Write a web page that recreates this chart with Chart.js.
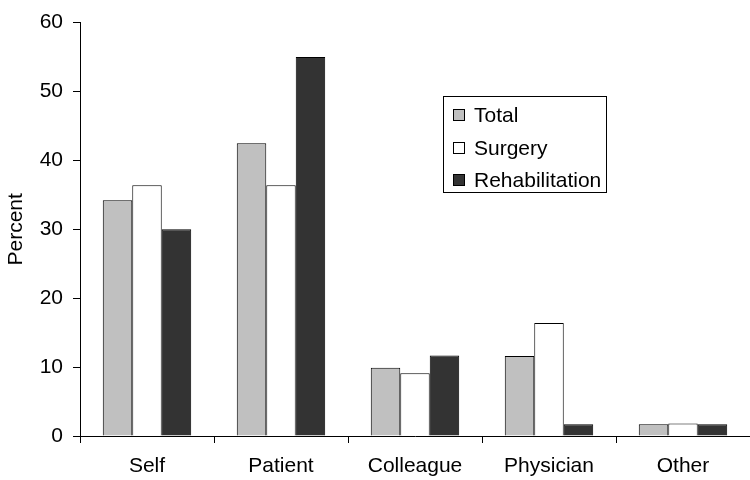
<!DOCTYPE html>
<html>
<head>
<meta charset="utf-8">
<script src="https://cdn.jsdelivr.net/npm/chart.js@4/dist/chart.umd.min.js"></script>
<style>
  html, body { margin: 0; padding: 0; background: #fff; overflow: hidden; }
  #wrap { width: 750px; height: 480px; }
</style>
</head>
<body>
<div id="wrap"><canvas id="sourceChart"></canvas></div>
<script>
// categories and values (percent)
var categories = ["Self", "Patient", "Colleague", "Physician", "Other"];
var total = [34.2, 42.5, 9.9, 11.6, 1.7];
var surgery = [36.4, 36.4, 9.1, 16.4, 1.8];
var rehabilitation = [30.0, 55.0, 11.7, 1.7, 1.7];
var yTicks = [0, 10, 20, 30, 40, 50, 60];

var font = {family: "'Liberation Sans', Arial, sans-serif", size: 21};

// legend drawn as a box inside the plot, like the original
var boxLegend = {
    id: 'boxLegend',
    afterDraw: function (chart) {
        var ctx = chart.ctx;
        ctx.save();
        ctx.strokeStyle = '#000';
        ctx.lineWidth = 1;
        ctx.strokeRect(443.5, 96.5, 163, 96);
        ctx.font = font.size + 'px ' + font.family;
        ctx.textBaseline = 'middle';
        var rows = [115, 148, 180];
        chart.data.datasets.forEach(function (ds, i) {
            var y = rows[i];
            ctx.fillStyle = ds.backgroundColor;
            ctx.fillRect(453.5, y - 5.5, 11, 11);
            ctx.strokeRect(453.5, y - 5.5, 11, 11);
            ctx.fillStyle = '#000';
            ctx.fillText(ds.label, 474, y + 1);
        });
        ctx.restore();
    }
};

var sourceCanvas = document.getElementById("sourceChart");

var chart = new Chart(sourceCanvas, {
    type: 'bar',
    data: {
        labels: categories,
        datasets: [
            {label: "Total", data: total, backgroundColor: '#c0c0c0', borderColor: '#000', borderWidth: 1},
            {label: "Surgery", data: surgery, backgroundColor: '#ffffff', borderColor: '#000', borderWidth: 1},
            {label: "Rehabilitation", data: rehabilitation, backgroundColor: '#333333', borderColor: '#000', borderWidth: 1}
        ]
    },
    options: {
        responsive: true,
        maintainAspectRatio: false,
        animation: false,
        layout: {padding: {top: 17, right: 0, left: 0, bottom: 0}},
        datasets: {bar: {categoryPercentage: 0.66, barPercentage: 1.0}},
        plugins: {
            legend: {display: false},
            tooltip: {enabled: false}
        },
        scales: {
            x: {
                grid: {display: true, drawOnChartArea: false, offset: true, tickLength: 7, color: '#000'},
                border: {color: '#000', width: 1},
                ticks: {color: '#000', font: font, padding: 11, maxRotation: 0},
                afterFit: function (scale) { scale.height = 44; }
            },
            y: {
                min: 0,
                max: 60,
                afterBuildTicks: function (scale) {
                    scale.ticks = yTicks.map(function (v) { return {value: v}; });
                },
                grid: {display: true, drawOnChartArea: false, tickLength: 7, color: '#000'},
                border: {color: '#000', width: 1},
                ticks: {color: '#000', font: font, padding: 10},
                title: {display: true, text: 'Percent', color: '#000', font: font, padding: {top: 4, bottom: 0}},
                afterFit: function (scale) { scale.width = 80; }
            }
        }
    },
    plugins: [boxLegend]
});
</script>
</body>
</html>
